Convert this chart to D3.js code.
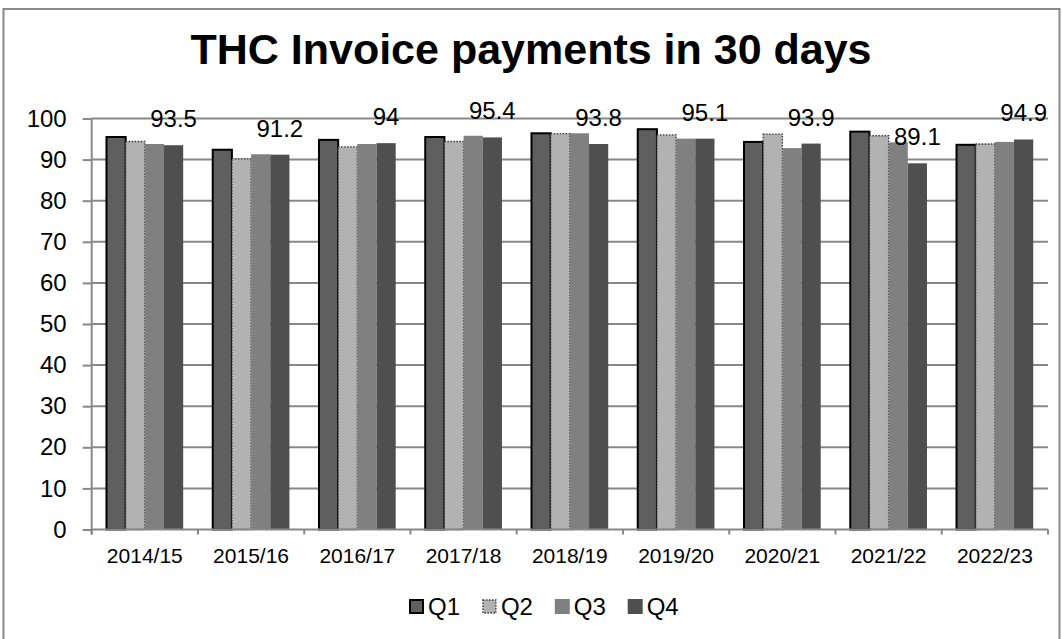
<!DOCTYPE html>
<html>
<head>
<meta charset="utf-8">
<script src="https://cdn.jsdelivr.net/npm/d3@7/dist/d3.min.js"></script>
<style>
  html, body { margin: 0; padding: 0; background: #fff; }
  svg { display: block; font-family: "Liberation Sans", Arial, sans-serif; }
</style>
</head>
<body>
<svg id="chart" width="1062" height="639"></svg>
<script>
const title = "THC Invoice payments in 30 days";
const categories = ["2014/15","2015/16","2016/17","2017/18","2018/19","2019/20","2020/21","2021/22","2022/23"];
const seriesNames = ["Q1","Q2","Q3","Q4"];
const q1 = [95.5, 92.4, 94.8, 95.5, 96.4, 97.4, 94.3, 96.8, 93.6];
const q2 = [94.4, 90.2, 93.1, 94.4, 96.3, 96.0, 96.2, 95.8, 93.8];
const q3 = [93.8, 91.3, 93.8, 95.8, 96.4, 95.1, 92.8, 94.2, 94.3];
const q4 = [93.5, 91.2, 94.0, 95.4, 93.8, 95.1, 93.9, 89.1, 94.9];
const yTicks = [0,10,20,30,40,50,60,70,80,90,100];
const labelSeries = "Q4";

const seriesValues = {Q1: q1, Q2: q2, Q3: q3, Q4: q4};
const styles = {
  Q1: {fill: "#5f5f5f", stroke: "#000", sw: 2, dash: null},
  Q2: {fill: "#b2b2b2", stroke: "#333", sw: 1.3, dash: "1.5,1.5"},
  Q3: {fill: "#808080", stroke: "none", sw: 0, dash: null},
  Q4: {fill: "#4f4f4f", stroke: "none", sw: 0, dash: null}
};

const svg = d3.select("#chart");
const plot = {left: 91.7, right: 1048, top: 118.5, bottom: 529.5};
const gridColor = "#888888";

// outer border
svg.append("rect").attr("x", 3.5).attr("y", 9).attr("width", 1056).attr("height", 640)
  .attr("fill", "none").attr("stroke", "#888").attr("stroke-width", 2);

// title
svg.append("text").attr("x", 531).attr("y", 64).attr("text-anchor", "middle")
  .attr("font-size", 43).attr("font-weight", "bold").attr("fill", "#000").text(title);

const x0 = d3.scaleBand().domain(categories).range([plot.left, plot.right]).padding(0);
const x1 = d3.scaleBand().domain(seriesNames).range([0, x0.bandwidth()]).paddingInner(0).paddingOuter(0.77);
const y = d3.scaleLinear().domain([0, 100]).range([plot.bottom, plot.top]);

// gridlines
svg.append("g").selectAll("line").data(yTicks.filter(t => t > 0)).join("line")
  .attr("x1", plot.left).attr("x2", plot.right)
  .attr("y1", d => y(d)).attr("y2", d => y(d))
  .attr("stroke", gridColor).attr("stroke-width", 2);

// y axis
const yAxis = svg.append("g").attr("transform", `translate(${plot.left},0)`)
  .call(d3.axisLeft(y).tickValues(yTicks).tickSize(9).tickPadding(16).tickFormat(d3.format("d")));
yAxis.select(".domain").attr("stroke", gridColor).attr("stroke-width", 2)
  .attr("d", `M0,${plot.top}V${plot.bottom + 5}`);
yAxis.selectAll(".tick line").attr("stroke", gridColor).attr("stroke-width", 2);
yAxis.selectAll(".tick text").attr("font-size", 24).attr("fill", "#000")
  .attr("font-family", "Liberation Sans, Arial, sans-serif");

// bars
const groups = svg.append("g").selectAll("g").data(categories).join("g")
  .attr("transform", d => `translate(${x0(d)},0)`);
groups.selectAll("rect").data((c, i) => seriesNames.map(s => ({s, v: seriesValues[s][i]})))
  .join("rect")
  .attr("x", d => x1(d.s)).attr("width", x1.bandwidth())
  .attr("y", d => y(d.v)).attr("height", d => y(0) - y(d.v))
  .attr("fill", d => styles[d.s].fill)
  .attr("stroke", d => styles[d.s].stroke)
  .attr("stroke-width", d => styles[d.s].sw)
  .attr("stroke-dasharray", d => styles[d.s].dash);

// x axis
const xAxisG = svg.append("g");
xAxisG.append("line").attr("x1", plot.left).attr("x2", plot.right)
  .attr("y1", y(0)).attr("y2", y(0)).attr("stroke", gridColor).attr("stroke-width", 2);
const boundaries = categories.map(c => x0(c) + x0.bandwidth()).concat([x0(categories[0])]);
xAxisG.selectAll("line.tk").data(boundaries).join("line").attr("class", "tk")
  .attr("x1", d => d).attr("x2", d => d).attr("y1", y(0)).attr("y2", y(0) + 5)
  .attr("stroke", gridColor).attr("stroke-width", 2);
xAxisG.selectAll("text").data(categories).join("text")
  .attr("x", d => x0(d) + x0.bandwidth() / 2).attr("y", 563)
  .attr("text-anchor", "middle").attr("font-size", 21).attr("fill", "#000").text(d => d);

// data labels (Q4)
svg.append("g").selectAll("text").data(categories).join("text")
  .attr("x", d => x0(d) + x1(labelSeries) + x1.bandwidth() / 2)
  .attr("y", (d, i) => y(seriesValues[labelSeries][i]) - 18)
  .attr("text-anchor", "middle").attr("font-size", 24).attr("fill", "#000")
  .text((d, i) => seriesValues[labelSeries][i]);

// legend
const legendX = d3.scalePoint().domain(seriesNames).range([409, 627.7]);
const lg = svg.append("g").selectAll("g").data(seriesNames).join("g")
  .attr("transform", d => `translate(${legendX(d)},599)`);
lg.append("rect").attr("x", d => styles[d].sw ? 1 : 0).attr("y", d => styles[d].sw ? 1 : 0)
  .attr("width", d => styles[d].sw ? 13 : 15).attr("height", d => styles[d].sw ? 13 : 15)
  .attr("fill", d => styles[d].fill).attr("stroke", d => styles[d].stroke)
  .attr("stroke-width", d => styles[d].sw).attr("stroke-dasharray", d => styles[d].dash);
lg.append("text").attr("x", 19).attr("y", 16).attr("font-size", 24).attr("fill", "#000").text(d => d);
</script>
</body>
</html>
